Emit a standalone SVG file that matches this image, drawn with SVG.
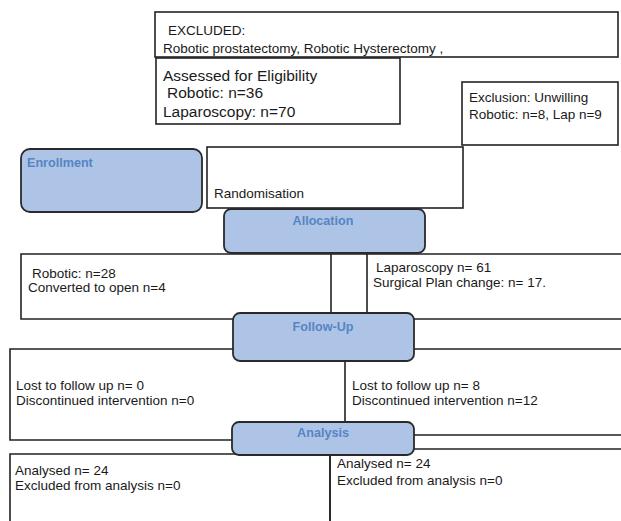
<svg xmlns="http://www.w3.org/2000/svg" width="621" height="521" viewBox="0 0 621 521">
<style>
.box{fill:#fff;stroke:#222;stroke-width:1.6}
.ln{fill:none;stroke:#222;stroke-width:1.6}
.hdr{fill:#aec4e6;stroke:#2a2a2a;stroke-width:1.8}
.t{font-family:"Liberation Sans",Arial,sans-serif;font-size:13.5px;fill:#1a1a1a}
.tb{font-family:"Liberation Sans",Arial,sans-serif;font-size:15.5px;fill:#1a1a1a}
.h{font-family:"Liberation Sans",Arial,sans-serif;font-size:12.6px;font-weight:bold;fill:#5684c4}
</style>
<rect width="621" height="521" fill="#fff"/>
<g id="excluded">
<rect class="box" x="155" y="12" width="463" height="45"/>
<text class="t" x="168" y="35">EXCLUDED:</text>
<text class="t" x="163" y="53">Robotic prostatectomy, Robotic Hysterectomy ,</text>
</g>
<g id="assessed">
<rect class="box" x="156" y="58" width="244" height="66"/>
<text class="tb" x="163" y="81">Assessed for Eligibility</text>
<text class="tb" x="167" y="98">Robotic: n=36</text>
<text class="tb" x="163" y="117">Laparoscopy: n=70</text>
</g>
<g id="exclusion">
<rect class="box" x="462" y="82" width="156" height="63"/>
<text class="t" x="469" y="102">Exclusion: Unwilling</text>
<text class="t" x="469" y="119">Robotic: n=8, Lap n=9</text>
</g>
<g id="randomisation">
<rect class="box" x="207" y="147" width="256" height="61"/>
<text class="t" x="214" y="198">Randomisation</text>
</g>
<g id="enrollment">
<rect class="hdr" x="21" y="149" width="181" height="63" rx="9"/>
<text class="h" x="27" y="167">Enrollment</text>
</g>
<g id="robotic">
<path class="ln" d="M331,254 H21 V319 H331 Z"/>
<text class="t" x="32" y="278">Robotic: n=28</text>
<text class="t" x="28" y="292">Converted to open n=4</text>
</g>
<g id="laparoscopy">
<path class="ln" d="M622,254 H367 V319 H622"/>
<text class="t" x="376" y="272">Laparoscopy n= 61</text>
<text class="t" x="373" y="287">Surgical Plan change: n= 17.</text>
</g>
<g id="lost-robotic">
<path class="ln" d="M345,349 H10 V440 H345"/>
<text class="t" x="16" y="390">Lost to follow up n= 0</text>
<text class="t" x="16" y="405">Discontinued intervention n=0</text>
</g>
<g id="lost-laparoscopy">
<path class="ln" d="M622,349 H345 V435 H622"/>
<text class="t" x="352" y="390">Lost to follow up n= 8</text>
<text class="t" x="352" y="405">Discontinued intervention n=12</text>
</g>
<g id="analysed-robotic">
<path class="ln" d="M10,530 V454 H330 V530"/>
<text class="t" x="15" y="475">Analysed n= 24</text>
<text class="t" x="15" y="490">Excluded from analysis n=0</text>
</g>
<g id="analysed-laparoscopy">
<path class="ln" d="M330,530 V449 H622"/>
<text class="t" x="337" y="468">Analysed n= 24</text>
<text class="t" x="337" y="485">Excluded from analysis n=0</text>
</g>
<g id="connectors">
<line class="ln" x1="331" y1="254" x2="367" y2="254"/>
</g>
<g id="allocation">
<rect class="hdr" x="224" y="209" width="201" height="44" rx="7"/>
<text class="h" x="323" y="225" text-anchor="middle">Allocation</text>
</g>
<g id="follow-up">
<rect class="hdr" x="233" y="313" width="181" height="48" rx="7"/>
<text class="h" x="323" y="331" text-anchor="middle">Follow-Up</text>
</g>
<g id="analysis">
<rect class="hdr" x="232" y="422" width="182" height="33" rx="7"/>
<text class="h" x="323" y="437" text-anchor="middle">Analysis</text>
</g>
</svg>
